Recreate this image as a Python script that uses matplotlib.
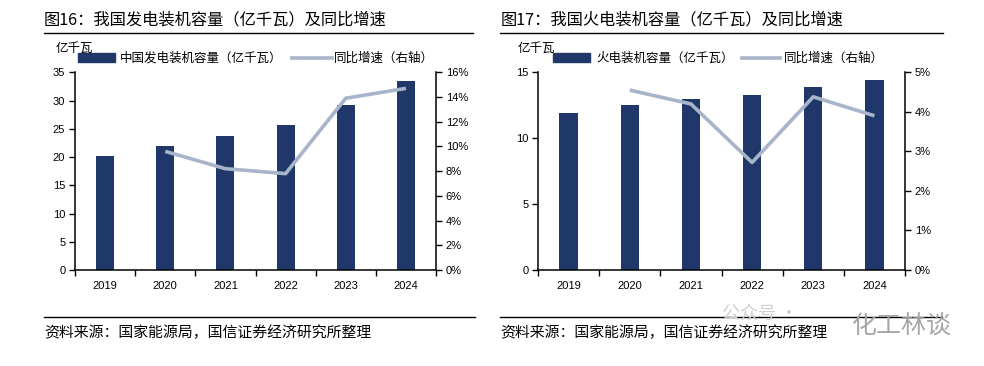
import matplotlib
matplotlib.use("Agg")
import matplotlib.pyplot as plt
from matplotlib.patches import Rectangle
from matplotlib.lines import Line2D
from matplotlib.ticker import FuncFormatter, FixedLocator

plt.rcParams['font.family'] = ['Liberation Sans', 'Noto Sans CJK SC', 'DejaVu Sans']

years = ['2019', '2020', '2021', '2022', '2023', '2024']

# Chart 1: total installed capacity
total_cap = [20.1, 22.0, 23.8, 25.6, 29.2, 33.5]
total_yoy = [None, 9.6, 8.2, 7.8, 13.9, 14.7]

# Chart 2: thermal installed capacity
thermal_cap = [11.9, 12.5, 13.0, 13.3, 13.9, 14.4]
thermal_yoy = [None, 4.55, 4.2, 2.72, 4.38, 3.9]

titles = ['图16：我国发电装机容量（亿千瓦）及同比增速',
          '图17：我国火电装机容量（亿千瓦）及同比增速']
bar_labels = ['中国发电装机容量（亿千瓦）', '火电装机容量（亿千瓦）']
line_label = '同比增速（右轴）'
unit_label = '亿千瓦'
source = '资料来源：国家能源局，国信证券经济研究所整理'

BAR_C = '#1F3869'
LINE_C = '#A8B4C9'
W, H = 984, 366
CJK = ['Noto Sans CJK SC', 'DejaVu Sans']

fig = plt.figure(figsize=(9.84, 3.66), dpi=100)

def fx(px):
    return px / W

def fy(py):
    return 1 - py / H

configs = [
    dict(ax_l=75, ax_r=436, cap=total_cap, yoy=total_yoy, ymax=35, ystep=5,
         y2max=16, y2step=2, title_x=44, rule=(44, 473), unit_x=56,
         leg_patch=(78, 115), leg_text1=120, leg_line=(292, 332), leg_text2=334,
         src_rule=(44, 475), src_x=44),
    dict(ax_l=538, ax_r=905, cap=thermal_cap, yoy=thermal_yoy, ymax=15, ystep=5,
         y2max=5, y2step=1, title_x=501, rule=(500, 943), unit_x=518,
         leg_patch=(553, 590), leg_text1=596, leg_line=(742, 780), leg_text2=784,
         src_rule=(500, 942), src_x=500),
]

top_px, bot_px = 72.3, 270

for i, c in enumerate(configs):
    ax = fig.add_axes([fx(c['ax_l']), fy(bot_px), fx(c['ax_r'] - c['ax_l']), (bot_px - top_px) / H])
    x = list(range(len(years)))
    ax.bar(x, c['cap'], width=0.3, color=BAR_C, zorder=2)
    ax.set_xlim(-0.5, len(years) - 0.5)
    ax.set_ylim(0, c['ymax'])
    ax.set_yticks(list(range(0, c['ymax'] + 1, c['ystep'])))
    ax.set_xticks(x)
    ax.set_xticklabels(years)
    ax.xaxis.set_minor_locator(FixedLocator([k + 0.5 for k in range(-1, len(years))]))
    ax.tick_params(axis='x', which='major', length=0, pad=8, labelsize=8)
    ax.tick_params(axis='x', which='minor', length=4, width=1, direction='out')
    ax.tick_params(axis='y', length=4, width=1, direction='out', labelsize=8, pad=3)
    for s in ['top', 'right']:
        ax.spines[s].set_visible(False)
    for s in ['left', 'bottom']:
        ax.spines[s].set_linewidth(1.1)

    ax2 = ax.twinx()
    xs = [k for k, v in zip(x, c['yoy']) if v is not None]
    vs = [v for v in c['yoy'] if v is not None]
    ax2.plot(xs, vs, color=LINE_C, lw=2.6, zorder=3, solid_capstyle='butt')
    ax2.set_ylim(0, c['y2max'])
    ax2.set_yticks(list(range(0, c['y2max'] + 1, c['y2step'])))
    ax2.yaxis.set_major_formatter(FuncFormatter(lambda v, p: f'{int(round(v))}%'))
    ax2.tick_params(axis='y', length=4, width=1, direction='out', labelsize=8, pad=3)
    for s in ['top', 'left', 'bottom']:
        ax2.spines[s].set_visible(False)
    ax2.spines['right'].set_linewidth(1.1)

    # title and rule
    fig.text(fx(c['title_x']), fy(20), titles[i], fontsize=11.7, va='center', ha='left',
             family=CJK)
    fig.add_artist(Line2D([fx(c['rule'][0]), fx(c['rule'][1])], [fy(33), fy(33)],
                          transform=fig.transFigure, color='black', lw=1.0))
    # unit
    fig.text(fx(c['unit_x']), fy(48), unit_label, fontsize=9, va='center', ha='left',
             family=CJK)
    # legend
    p0, p1 = c['leg_patch']
    fig.add_artist(Rectangle((fx(p0), fy(61.5)), fx(p1 - p0), 8 / H,
                             transform=fig.transFigure, color=BAR_C))
    fig.text(fx(c['leg_text1']), fy(58), bar_labels[i], fontsize=9, va='center', ha='left',
             family=CJK)
    l0, l1 = c['leg_line']
    fig.add_artist(Line2D([fx(l0), fx(l1)], [fy(58), fy(58)], transform=fig.transFigure,
                          color=LINE_C, lw=2.6))
    fig.text(fx(c['leg_text2']), fy(58), line_label, fontsize=9, va='center', ha='left',
             family=CJK)
    # source
    r0, r1 = c['src_rule']
    fig.add_artist(Line2D([fx(r0), fx(r1)], [fy(317), fy(317)], transform=fig.transFigure,
                          color='black', lw=1.0))
    fig.text(fx(c['src_x']), fy(333), source, fontsize=10.7, va='center', ha='left',
             family=CJK)

# watermark
fig.text(fx(722), fy(314), '公众号 ·', fontsize=13, color='#D0D0D0',
         va='center', ha='left', family=CJK)
fig.text(fx(852), fy(327), '化工林谈', fontsize=18, color='#A6A6A6',
         va='center', ha='left', family=CJK)

fig.savefig('out.png', dpi=100)
